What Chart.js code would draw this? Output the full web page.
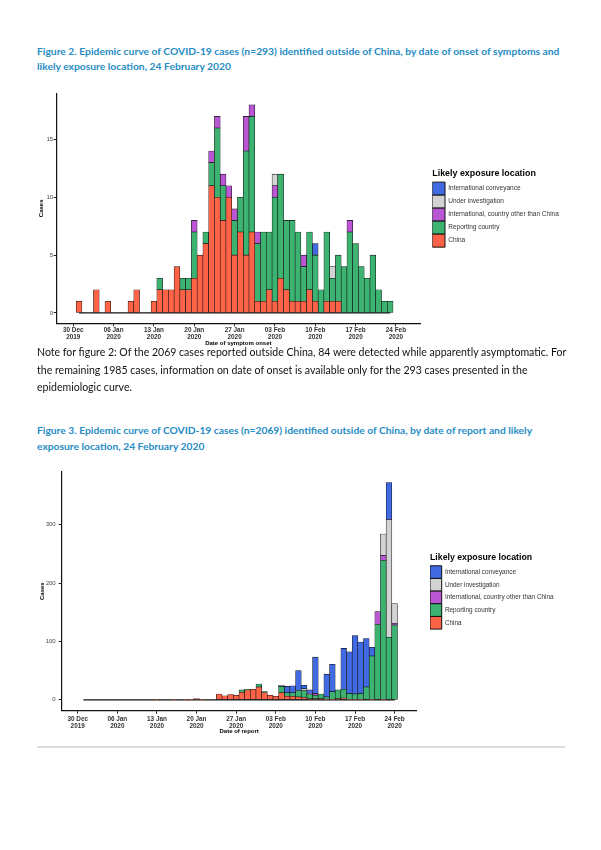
<!DOCTYPE html>
<html><head><meta charset="utf-8">
<script src="https://cdn.jsdelivr.net/npm/chart.js@4.4.1/dist/chart.umd.min.js"></script>
<style>
html,body{margin:0;padding:0;background:#fff;}
body{width:601px;height:850px;position:relative;overflow:hidden;font-family:Lato,'Open Sans',sans-serif;}
.blk{position:absolute;left:37px;top:0;}
.blk div{position:absolute;left:0;white-space:nowrap;transform:translateY(-50%);}
.ttl{color:#268cc4;font-weight:700;}
.note{color:#111;}
.cw{position:absolute;left:0;width:601px;}
#c1wrap{top:80px;height:272px;}
#c2wrap{top:456px;height:286px;}
#sep{position:absolute;left:37px;top:746px;width:528px;height:1.5px;background:#dcdcdc;}
</style></head>
<body>
<div class="blk ttl" data-w="523">
  <div style="top:51px">Figure 2. Epidemic curve of COVID-19 cases (n=293) identified outside of China, by date of onset of symptoms and</div>
  <div style="top:66px">likely exposure location, 24 February 2020</div>
</div>
<div class="cw" id="c1wrap"><canvas id="c1"></canvas></div>
<div class="blk note" data-w="530">
  <div style="top:352px">Note for figure 2: Of the 2069 cases reported outside China, 84 were detected while apparently asymptomatic. For</div>
  <div style="top:369.5px">the remaining 1985 cases, information on date of onset is available only for the 293 cases presented in the</div>
  <div style="top:387px">epidemiologic curve.</div>
</div>
<div class="blk ttl" data-w="496">
  <div style="top:430px">Figure 3. Epidemic curve of COVID-19 cases (n=2069) identified outside of China, by date of report and likely</div>
  <div style="top:446px">exposure location, 24 February 2020</div>
</div>
<div class="cw" id="c2wrap"><canvas id="c2"></canvas></div>
<div id="sep"></div>
<script>
// ---------- DATA ----------
const DAYS = ['2019-12-30','2019-12-31',
 '2020-01-01','2020-01-02','2020-01-03','2020-01-04','2020-01-05','2020-01-06','2020-01-07','2020-01-08','2020-01-09','2020-01-10',
 '2020-01-11','2020-01-12','2020-01-13','2020-01-14','2020-01-15','2020-01-16','2020-01-17','2020-01-18','2020-01-19','2020-01-20',
 '2020-01-21','2020-01-22','2020-01-23','2020-01-24','2020-01-25','2020-01-26','2020-01-27','2020-01-28','2020-01-29','2020-01-30','2020-01-31',
 '2020-02-01','2020-02-02','2020-02-03','2020-02-04','2020-02-05','2020-02-06','2020-02-07','2020-02-08','2020-02-09','2020-02-10',
 '2020-02-11','2020-02-12','2020-02-13','2020-02-14','2020-02-15','2020-02-16','2020-02-17','2020-02-18','2020-02-19','2020-02-20',
 '2020-02-21','2020-02-22','2020-02-23','2020-02-24'];

const TICK_DATES = ['2019-12-30','2020-01-06','2020-01-13','2020-01-20','2020-01-27','2020-02-03','2020-02-10','2020-02-17','2020-02-24'];
const TICK_LABELS = [['30 Dec','2019'],['06 Jan','2020'],['13 Jan','2020'],['20 Jan','2020'],['27 Jan','2020'],['03 Feb','2020'],['10 Feb','2020'],['17 Feb','2020'],['24 Feb','2020']];

const EXPOSURE_LABELS = ['China','Reporting country','International, country other than China','Under investigation','International conveyance'];
const EXPOSURE_COLORS = ['#FF6347','#3CB371','#BA55D3','#D3D3D3','#4169E1'];

// Figure 2: by date of symptom onset (one value per day in DAYS)
const onsetChina = [0,1,0,0,2,0,1,0,0,0, 1,2,0,0,1,2,2,2,4,2, 2,3,5,6,11,10,8,10,5,7, 5,7,1,1,2,1,3,2,1,1, 1,2,1,0,1,1,1,0,0,0, 0,0,0,0,0,0,0];
const onsetReporting = [0,0,0,0,0,0,0,0,0,0, 0,0,0,0,0,1,0,0,0,1, 1,4,0,1,2,6,3,0,3,3, 9,10,5,6,5,9,9,6,7,6, 3,5,4,2,6,2,4,4,7,6, 4,3,5,2,1,1,0];
const onsetOtherCountry = [0,0,0,0,0,0,0,0,0,0, 0,0,0,0,0,0,0,0,0,0, 0,1,0,0,1,1,1,1,1,0, 3,1,1,0,0,1,0,0,0,0, 1,0,0,0,0,0,0,0,1,0, 0,0,0,0,0,0,0];
const onsetInvestigation = [0,0,0,0,0,0,0,0,0,0, 0,0,0,0,0,0,0,0,0,0, 0,0,0,0,0,0,0,0,0,0, 0,0,0,0,0,1,0,0,0,0, 0,0,0,0,0,1,0,0,0,0, 0,0,0,0,0,0,0];
const onsetConveyance = [0,0,0,0,0,0,0,0,0,0, 0,0,0,0,0,0,0,0,0,0, 0,0,0,0,0,0,0,0,0,0, 0,0,0,0,0,0,0,0,0,0, 0,0,1,0,0,0,0,0,0,0, 0,0,0,0,0,0,0];
const onsetRange = ['2019-12-31','2020-02-23'];
const onsetTicksY = [0,5,10,15];

// Figure 3: by date of report
const reportChina = [0,0,0,0,0,0,0,0,0,0, 0,0,0,0,1,0,0,1,0,1, 1,2,1,0,0,10,7,9,8,13, 17,18,22,12,8,6,12,6,6,5, 4,2,2,2,1,1,2,3,1,1, 1,0,1,0,1,0,0];
const reportReporting = [0,0,0,0,0,0,0,0,0,0, 0,0,0,0,0,0,0,0,0,0, 0,0,0,0,0,0,0,0,0,4, 1,0,5,2,0,0,11,6,6,11, 12,8,6,8,4,13,15,15,10,9, 10,22,74,129,238,107,128];
const reportOtherCountry = [0,0,0,0,0,0,0,0,0,0, 0,0,0,0,0,0,0,0,0,0, 0,0,0,0,0,0,0,0,0,0, 0,0,0,0,0,0,1,0,0,0, 0,1,3,0,0,0,0,0,0,0, 0,0,0,22,8,0,3];
const reportInvestigation = [0,0,0,0,0,0,0,0,0,0, 0,0,0,0,0,0,0,0,0,0, 0,0,0,0,0,0,0,0,0,0, 0,0,0,0,0,0,1,0,0,0, 3,0,0,0,0,0,0,0,0,0, 0,0,0,0,37,202,34];
const reportConveyance = [0,0,0,0,0,0,0,0,0,0, 0,0,0,0,0,0,0,0,0,0, 0,0,0,0,0,0,0,0,0,0, 0,0,0,0,0,0,0,11,12,34, 6,6,62,0,39,47,0,70,71,100, 88,83,15,0,0,63,0];
const reportRange = ['2019-12-31','2020-02-24'];
const reportTicksY = [0,100,200,300];

// ---------- TEXT FIT ----------
document.querySelectorAll('.blk').forEach(b=>{
  b.style.fontSize='12px';
  const w=b.querySelector('div').getBoundingClientRect().width;
  b.style.fontSize=(12*parseFloat(b.dataset.w)/w)+'px';
});

// ---------- CHARTS ----------
const FAM = "'Liberation Sans', Arial, sans-serif";
Chart.defaults.font.family = FAM;
Chart.defaults.color = '#333';

function measure(text, font){
  const c=document.createElement('canvas').getContext('2d');
  c.font=font; return c.measureText(text).width;
}

function buildChart(id, series, range, yTicks, L){
  const idx = d => DAYS.indexOf(d);
  const datasets = series.map((vals,k)=>({
    type:'bar', label:EXPOSURE_LABELS[k], yAxisID:'y', xAxisID:'x',
    data: vals.map((v,i)=>({x:i,y:v})),
    backgroundColor:EXPOSURE_COLORS[k], borderColor:'#111', borderWidth:0.6,
    borderSkipped:false, barPercentage:1, categoryPercentage:1, order:0
  }));
  const r0=idx(range[0]), r1=idx(range[1]);
  datasets.push({
    type:'line', label:'baseline', yAxisID:'y', xAxisID:'x',
    data: DAYS.map((d,i)=>({x:i,y:(i>=r0&&i<=r1)?0:null})).filter(p=>p.y!==null),
    borderColor:'#111', borderWidth:1.2, pointRadius:0, order:5
  });
  const labelFont = L.legendFont+'px '+FAM;
  const longest = Math.max(...EXPOSURE_LABELS.map(t=>measure(t,labelFont)));
  const legendW = L.boxW + L.legendFont/2 + longest + 10;
  const padRight = 601 - L.legendLeft - legendW;
  const canvasTop = L.canvasTop, canvasH = L.canvasH;
  return new Chart(document.getElementById(id), {
    data:{datasets},
    options:{
      responsive:true, maintainAspectRatio:false, animation:false,
      layout:{padding:{top:L.plotTop-canvasTop, left:L.padLeft, right:padRight, bottom:0}},
      plugins:{
        tooltip:{enabled:false},
        legend:{
          display:true, position:'right', align:'center', fullSize:false, reverse:true, maxWidth:400,
          title:{display:true, text:'Likely exposure location', position:'start', color:'#000',
                 font:{size:L.titleFont, weight:'bold', family:FAM}, padding:{top:0,bottom:L.titlePad}},
          labels:{
            boxWidth:L.boxW, boxHeight:L.boxH, padding:0, color:'#333',
            font:{size:L.legendFont, family:FAM},
            filter:item=>item.datasetIndex<5,
            generateLabels:chart=>Chart.defaults.plugins.legend.labels.generateLabels(chart).map(l=>Object.assign(l,{lineWidth:1,strokeStyle:'#111'}))
          }
        }
      },
      scales:{
        x:{type:'linear', stacked:true, min:L.xMin, max:L.xMax, offset:false,
           afterBuildTicks:s=>{s.ticks=TICK_DATES.map(d=>({value:idx(d)}));},
           afterFit:s=>{s.height=canvasTop+canvasH-L.plotBottom;},
           ticks:{autoSkip:false, maxRotation:0, padding:L.xTickPad, color:'#333',
                  font:{size:6.4, weight:'bold', lineHeight:1.05},
                  callback:(v,i)=>TICK_LABELS[i]},
           grid:{offset:false, drawOnChartArea:false, drawTicks:true, tickLength:3, tickColor:'#222', color:'#222'},
           border:{display:true, color:'#111', width:1.2},
           title:{display:true, text:L.xTitle, color:'#000', font:{size:6, weight:'bold', lineHeight:1.2},
                  padding:{top:0,bottom:L.xTitlePad}}
        },
        y:{type:'linear', position:'left', stacked:true, min:L.yMin, max:L.yMax,
           afterBuildTicks:s=>{s.ticks=yTicks.map(v=>({value:v}));},
           afterFit:s=>{s.width=L.plotLeft-L.padLeft;},
           ticks:{padding:L.yTickPad, color:'#444', font:{size:6}},
           grid:{drawOnChartArea:false, drawTicks:true, tickLength:3, tickColor:'#222', color:'#222'},
           border:{display:true, color:'#111', width:1.2},
           title:{display:true, text:'Cases', color:'#000', font:{size:6, weight:'bold', lineHeight:1.2},
                  padding:{top:L.yTitlePad,bottom:0}}
        },
        gap:{type:'linear', position:'right', display:true,
             grid:{display:false}, border:{display:false}, ticks:{display:false},
             afterFit:s=>{s.width=L.legendLeft-L.plotRight;}}
      }
    }
  });
}

buildChart('c1',
  [onsetChina,onsetReporting,onsetOtherCountry,onsetInvestigation,onsetConveyance],
  onsetRange, onsetTicksY,
  {canvasTop:80, canvasH:272, plotTop:93.3, plotBottom:323.3, plotLeft:56.7, plotRight:420, padLeft:30,
   legendLeft:432.3, boxW:12.7, boxH:13, legendFont:6.5, titleFont:8.9, titlePad:2,
   xMin:-2.88, xMax:60.18, yMin:-0.9, yMax:19.0, xTickPad:1, yTickPad:0.5,
   xTitle:'Date of symptom onset', xTitlePad:4.6, yTitlePad:7.4});

buildChart('c2',
  [reportChina,reportReporting,reportOtherCountry,reportInvestigation,reportConveyance],
  reportRange, reportTicksY,
  {canvasTop:456, canvasH:286, plotTop:471.7, plotBottom:710.7, plotLeft:61.7, plotRight:416.7, padLeft:30,
   legendLeft:430, boxW:11.7, boxH:12.66, legendFont:6.4, titleFont:8.75, titlePad:2,
   xMin:-2.83, xMax:59.9, yMin:-18.6, yMax:390.6, xTickPad:2.5, yTickPad:3,
   xTitle:'Date of report', xTitlePad:6.7, yTitlePad:9.1});
</script>
</body></html>
